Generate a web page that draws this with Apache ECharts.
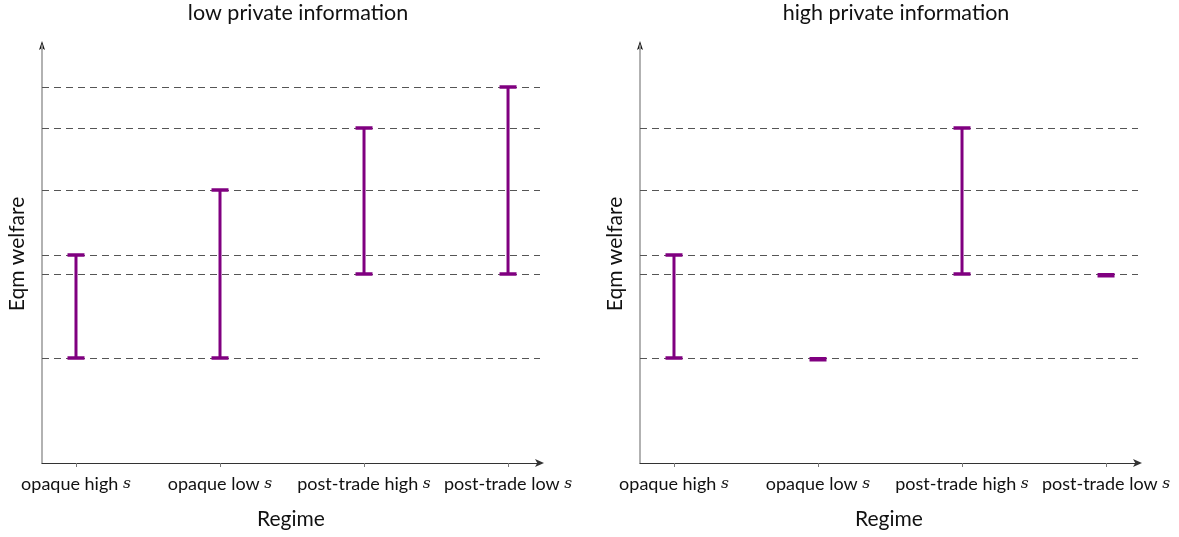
<!DOCTYPE html>
<html><head><meta charset="utf-8">
<script src="https://cdn.jsdelivr.net/npm/echarts@6/dist/echarts.min.js"></script>
<style>html,body{margin:0;padding:0;background:#fff}#c{width:1179px;height:537px}</style>
</head><body><div id="c"></div>
<script>
const categories = ['opaque high', 'opaque low', 'post-trade high', 'post-trade low'];
const panelTitles = ['low private information', 'high private information'];
// welfare ranges [low, high] per regime
const lowInfoLow  = [10.5, 10.5, 18.9, 18.9];
const lowInfoHigh = [20.8, 27.3, 33.5, 37.6];
const highInfoLow  = [10.5, 10.4, 18.9, 18.8];
const highInfoHigh = [20.8, 10.4, 33.5, 18.8];
const lowInfoRefs  = [10.5, 18.9, 20.8, 27.3, 33.5, 37.6];
const highInfoRefs = [10.5, 18.9, 20.8, 27.3, 33.5];

const FONT = 'Lato';
const purple = '#800080';
const chart = echarts.init(document.getElementById('c'));

function errData(lo, hi){ return categories.map((c,i)=>[i+1, lo[i], hi[i]]); }

function renderErr(params, api){
  const x = api.value(0), lo = api.value(1), hi = api.value(2);
  const p1 = api.coord([x, lo]), p2 = api.coord([x, hi]);
  const cap = 8.5;
  if (Math.abs(p1[1]-p2[1]) < 2) {
    return {type:'rect', shape:{x:p1[0]-cap, y:p1[1]-2, width:2*cap, height:4.5}, style:{fill:purple}};
  }
  const st = {stroke:purple, lineWidth:3};
  return {type:'group', children:[
    {type:'line', shape:{x1:p1[0], y1:p1[1], x2:p2[0], y2:p2[1]}, style:st},
    {type:'line', shape:{x1:p1[0]-cap, y1:p1[1], x2:p1[0]+cap, y2:p1[1]}, style:{stroke:purple, lineWidth:3.5}},
    {type:'line', shape:{x1:p2[0]-cap, y1:p2[1], x2:p2[0]+cap, y2:p2[1]}, style:{stroke:purple, lineWidth:3.5}}
  ]};
}

const grids = [{left:42, top:45, width:498, height:418}, {left:640, top:45, width:498, height:418}];
const xMin = 0.764, xMax = 4.222;

function xAxis(i){
  return {type:'value', gridIndex:i, min:xMin, max:xMax,
    name:'Regime', nameLocation:'middle', nameGap:46,
    nameTextStyle:{fontFamily:FONT, fontSize:21, color:'#111'},
    splitLine:{show:false},
    axisLine:{show:true, lineStyle:{color:'#333', width:1.2}, symbol:['none','arrow'], symbolSize:[6,9], symbolOffset:[0,4]},
    axisTick:{show:true, customValues:[1,2,3,4], length:4, lineStyle:{color:'#777'}},
    axisLabel:{customValues:[1,2,3,4], margin:12, fontFamily:FONT, fontSize:18, color:'#111',
      formatter:v=>categories[Math.round(v)-1] + ' {i|s}',
      rich:{i:{fontStyle:'italic', fontFamily:'DejaVu Serif', fontSize:15.5, color:'#111'}}}
  };
}
function yAxis(i){
  return {type:'value', gridIndex:i, min:0, max:41.8,
    name:'Eqm welfare', nameLocation:'middle', nameGap:14, nameRotate:90,
    nameTextStyle:{fontFamily:FONT, fontSize:21, color:'#111'},
    splitLine:{show:false}, axisTick:{show:false}, axisLabel:{show:false},
    axisLine:{show:true, lineStyle:{color:'#999', width:1.5}, symbol:'none'}
  };
}
function refSeries(i, refs){
  return {type:'line', xAxisIndex:i, yAxisIndex:i, data:[], silent:true,
    markLine:{silent:true, symbol:'none', label:{show:false},
      lineStyle:{color:'#555', type:[7,5], width:1},
      data: refs.map(v=>({yAxis:v}))}};
}
function arrowHead(x, y){
  return {type:'polygon', shape:{points:[[x-3,y+9],[x,y],[x+3,y+9],[x,y+7]]}, style:{fill:'#111'}};
}

chart.setOption({
  animation:false,
  title: panelTitles.map((t,i)=>({text:t, left: i===0 ? 293 : 891, top:-3, textAlign:'center',
    textStyle:{fontFamily:FONT, fontSize:21.5, fontWeight:'normal', color:'#111'}})),
  grid: grids,
  xAxis:[xAxis(0), xAxis(1)],
  yAxis:[yAxis(0), yAxis(1)],
  graphic:[arrowHead(42, 41), arrowHead(640, 41),
    {type:'line', shape:{x1:42,y1:46,x2:42,y2:50}, style:{stroke:'#999', lineWidth:1.5}},
    {type:'line', shape:{x1:640,y1:46,x2:640,y2:50}, style:{stroke:'#999', lineWidth:1.5}}],
  series:[
    refSeries(0, lowInfoRefs),
    refSeries(1, highInfoRefs),
    {type:'custom', xAxisIndex:0, yAxisIndex:0, renderItem:renderErr, data:errData(lowInfoLow, lowInfoHigh), z:5},
    {type:'custom', xAxisIndex:1, yAxisIndex:1, renderItem:renderErr, data:errData(highInfoLow, highInfoHigh), z:5}
  ]
});
</script></body></html>
